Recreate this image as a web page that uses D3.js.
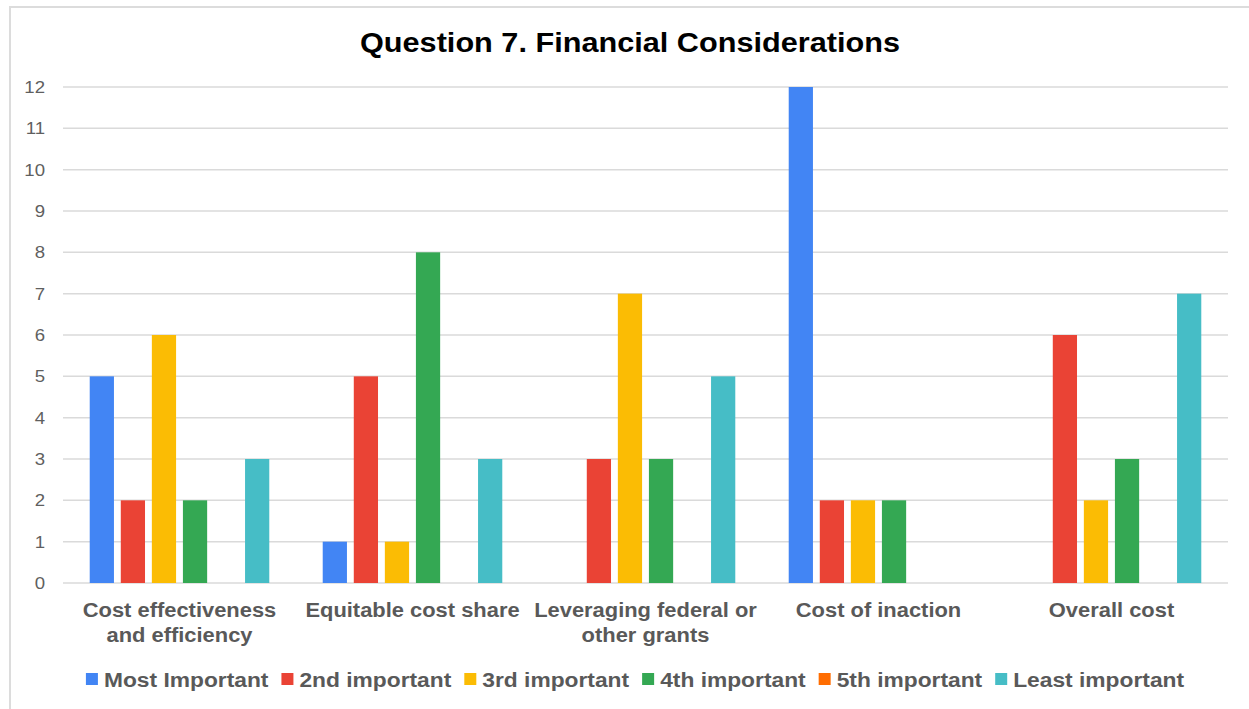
<!DOCTYPE html>
<meta charset="utf-8">
<head>
    <title>Question 7. Financial Considerations</title>
    <script src="https://cdn.jsdelivr.net/npm/d3@7"></script>
</head>

<style>
    body { margin: 0; background: white; }
    text { font-family: "Liberation Sans", Arial, sans-serif; }
    .grid line { stroke: #dadada; stroke-width: 1.5px; }
    .ytick { fill: #5f5f5f; font-size: 17px; }
    .xlab { fill: #595959; font-size: 20px; font-weight: bold; }
    .legend text { fill: #595959; font-size: 21px; font-weight: bold; }
</style>
<svg></svg>

<script>
    var vWidth = 1249;
    var vHeight = 709;

    var categories = [
        ["Cost effectiveness", "and efficiency"],
        ["Equitable cost share"],
        ["Leveraging federal or", "other grants"],
        ["Cost of inaction"],
        ["Overall cost"]
    ];
    var seriesNames = ["Most Important", "2nd important", "3rd important", "4th important", "5th important", "Least important"];
    var seriesColors = ["#4285F4", "#EA4335", "#FBBC04", "#34A853", "#FF6D01", "#46BDC6"];

    // values per series, one per category
    var mostImportant  = [5, 1, 0, 12, 0];
    var secondImp      = [2, 5, 3, 2, 6];
    var thirdImp       = [6, 1, 7, 2, 2];
    var fourthImp      = [2, 8, 3, 2, 3];
    var fifthImp       = [0, 0, 0, 0, 0];
    var leastImp       = [3, 3, 5, 0, 7];
    var seriesValues = [mostImportant, secondImp, thirdImp, fourthImp, fifthImp, leastImp];

    var yTicks = [0, 1, 2, 3, 4, 5, 6, 7, 8, 9, 10, 11, 12];

    // the source image is a little wider than tall, so text is stretched
    var sx = 1.095;

    var svg = d3.select('svg').attr('width', vWidth).attr('height', vHeight);

    // outer frame (only top and left are in view)
    svg.append('path')
        .attr('d', 'M10,' + vHeight + 'V7H' + vWidth)
        .attr('fill', 'none').attr('stroke', '#dcdcdc').attr('stroke-width', 2);

    var catIdx = categories.map(function (d, i) { return i; });
    var x0 = d3.scaleBand().domain(catIdx).range([63, 1228]).paddingInner(0.2).paddingOuter(0.1);
    var x1 = d3.scaleBand().domain(d3.range(seriesNames.length)).range([0, x0.bandwidth()])
        .paddingInner(0.22).paddingOuter(0.11);
    var y = d3.scaleLinear().domain([0, 12]).range([583, 87]);

    function place(x, yy, s) { return 'translate(' + x + ',' + yy + ') scale(' + (s || sx) + ',1)'; }

    // title
    svg.append('text')
        .attr('transform', place(630, 52))
        .attr('text-anchor', 'middle')
        .style('font-size', '28px').style('font-weight', 'bold').style('fill', '#000')
        .text('Question 7. Financial Considerations');

    // gridlines
    svg.append('g').attr('class', 'grid')
        .selectAll('line').data(yTicks).enter().append('line')
        .attr('x1', 63).attr('x2', 1228)
        .attr('y1', function (d) { return y(d); })
        .attr('y2', function (d) { return y(d); });

    // y labels
    svg.append('g').selectAll('text').data(yTicks).enter().append('text')
        .attr('class', 'ytick')
        .attr('transform', function (d) { return place(45, y(d)); })
        .attr('dy', '0.35em').attr('text-anchor', 'end')
        .text(function (d) { return d; });

    // bars
    var groups = svg.append('g').selectAll('g').data(catIdx).enter().append('g')
        .attr('transform', function (c) { return 'translate(' + x0(c) + ',0)'; });
    groups.selectAll('rect')
        .data(function (c) { return seriesValues.map(function (s, si) { return {s: si, v: s[c]}; }); })
        .enter().append('rect')
        .attr('x', function (d) { return x1(d.s); })
        .attr('width', x1.bandwidth())
        .attr('y', function (d) { return y(d.v); })
        .attr('height', function (d) { return y(0) - y(d.v); })
        .attr('fill', function (d) { return seriesColors[d.s]; });

    // category labels
    var xl = svg.append('g').selectAll('text').data(catIdx).enter().append('text')
        .attr('class', 'xlab')
        .attr('text-anchor', 'middle')
        .attr('transform', function (c) { return place(x0(c) + x0.bandwidth() / 2, 617); });
    xl.selectAll('tspan').data(function (c) { return categories[c]; }).enter().append('tspan')
        .attr('x', 0)
        .attr('dy', function (d, i) { return i === 0 ? 0 : 25; })
        .text(function (d) { return d; });

    // legend, centred
    var lsx = 1.085;
    var legend = svg.append('g').attr('class', 'legend');
    var items = legend.selectAll('g').data(seriesNames).enter().append('g');
    items.append('rect').attr('width', 12).attr('height', 12).attr('y', -14)
        .attr('fill', function (d, i) { return seriesColors[i]; });
    items.append('text').attr('transform', place(18, 0, lsx)).text(function (d) { return d; });
    var pos = 0;
    items.each(function () {
        var w = d3.select(this).select('text').node().getComputedTextLength() * lsx;
        d3.select(this).attr('transform', 'translate(' + pos + ',0)');
        pos += 18 + w + 13;
    });
    var total = pos - 13;
    legend.attr('transform', 'translate(' + (635 - total / 2) + ',687)');
</script>
